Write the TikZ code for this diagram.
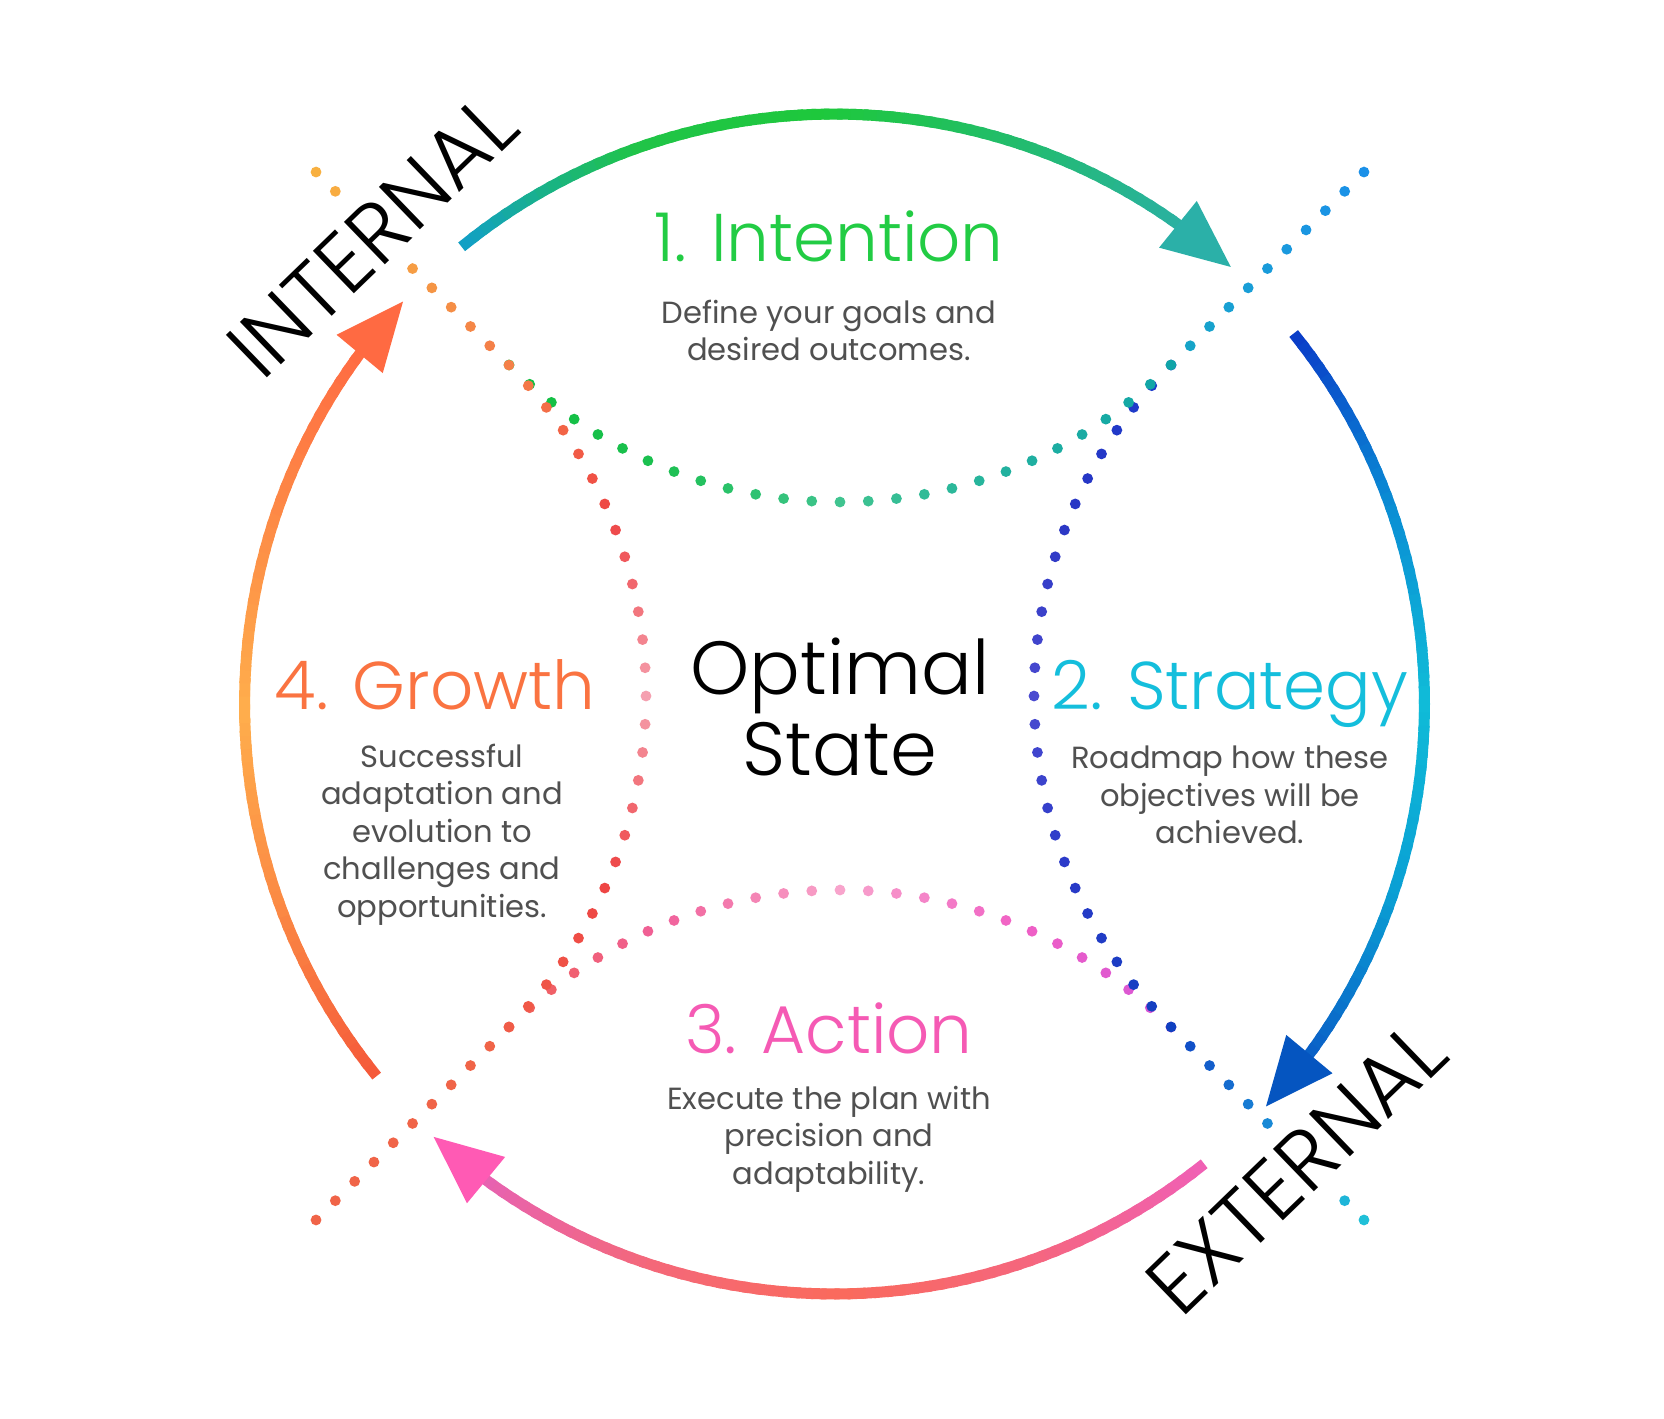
\documentclass[tikz,border=0pt]{standalone}
\usepackage{fontspec}
\setmainfont{Poppins}
\newfontfamily\lightfont{Poppins Light}
\usetikzlibrary{positioning, calc}

% text colours
\definecolor{intentGreen}{HTML}{22CC44}
\definecolor{strategyCyan}{HTML}{14BEDC}
\definecolor{actionPink}{HTML}{F55AB4}
\definecolor{growthOrange}{HTML}{FA7341}
\definecolor{descGray}{HTML}{505050}
% outer ring colours
\definecolor{ringTa}{HTML}{12A0C4}\definecolor{ringTb}{HTML}{20C448}\definecolor{ringTc}{HTML}{1EC83C}
\definecolor{ringTd}{HTML}{22BC6C}\definecolor{ringTe}{HTML}{2AB0A4}\definecolor{arrowT}{HTML}{2BB0A8}
\definecolor{ringRa}{HTML}{0A3EC8}\definecolor{ringRb}{HTML}{0A8ED4}\definecolor{ringRc}{HTML}{10BCD8}
\definecolor{ringRd}{HTML}{0AA0D4}\definecolor{ringRe}{HTML}{0A5CC6}\definecolor{arrowR}{HTML}{0555C0}
\definecolor{ringBa}{HTML}{F060B4}\definecolor{ringBb}{HTML}{F5667E}\definecolor{ringBc}{HTML}{FA6A5C}
\definecolor{ringBd}{HTML}{F4687A}\definecolor{ringBe}{HTML}{E662B4}\definecolor{arrowB}{HTML}{FF5AB4}
\definecolor{ringLa}{HTML}{F55A3A}\definecolor{ringLb}{HTML}{FB8A44}\definecolor{ringLc}{HTML}{FFAE4C}
\definecolor{ringLd}{HTML}{FD8A46}\definecolor{ringLe}{HTML}{FF6A42}\definecolor{arrowL}{HTML}{FF6A42}
% dotted curve colours
\definecolor{dotTa}{HTML}{10C040}\definecolor{dotTb}{HTML}{1CC050}\definecolor{dotTc}{HTML}{40C490}
\definecolor{dotTd}{HTML}{20B0A0}\definecolor{dotTe}{HTML}{10A4A8}
\definecolor{dotNa}{HTML}{16A4C8}\definecolor{dotNb}{HTML}{18A0D4}\definecolor{dotNc}{HTML}{1A9ADC}
\definecolor{dotNd}{HTML}{1A94E4}\definecolor{dotNe}{HTML}{1A90E8}
\definecolor{dotRa}{HTML}{1A3CCC}\definecolor{dotRb}{HTML}{2A36C4}\definecolor{dotRc}{HTML}{4A4AD0}
\definecolor{dotRd}{HTML}{2A3AC8}\definecolor{dotRe}{HTML}{1040C0}
\definecolor{dotSa}{HTML}{1050C8}\definecolor{dotSb}{HTML}{1670D0}\definecolor{dotSc}{HTML}{1A90D8}
\definecolor{dotSd}{HTML}{1CA8D8}\definecolor{dotSe}{HTML}{20C0D8}
\definecolor{dotBa}{HTML}{F06050}\definecolor{dotBb}{HTML}{F0609A}\definecolor{dotBc}{HTML}{F8A4CC}
\definecolor{dotBd}{HTML}{F060C4}\definecolor{dotBe}{HTML}{D454D8}
\definecolor{dotWa}{HTML}{F06448}
\definecolor{dotLa}{HTML}{F58048}\definecolor{dotLb}{HTML}{EE4444}\definecolor{dotLc}{HTML}{F5A0B0}
\definecolor{dotLd}{HTML}{EE4444}\definecolor{dotLe}{HTML}{F05C48}
\definecolor{dotKa}{HTML}{F48048}\definecolor{dotKb}{HTML}{F59046}\definecolor{dotKc}{HTML}{F6A044}
\definecolor{dotKd}{HTML}{F7A842}\definecolor{dotKe}{HTML}{F8B040}

% colour gc at position #1 (0..1) between five stops
\newcommand\gradcol[6]{%
  \pgfmathtruncatemacro\gseg{min(4*#1,3.999)}%
  \pgfmathsetmacro\gpct{100-100*(4*#1-\gseg)}%
  \ifcase\gseg\relax
    \colorlet{gc}{#2!\gpct!#3}\or
    \colorlet{gc}{#3!\gpct!#4}\or
    \colorlet{gc}{#4!\gpct!#5}\or
    \colorlet{gc}{#5!\gpct!#6}\fi}

% outer ring piece, clockwise from angle #1 to #2
\newcommand\ringarc[7]{%
  \foreach \i in {0,...,59}{
    \pgfmathsetmacro\tpos{\i/59}
    \pgfmathsetmacro\angA{#1-(#1-#2)*\i/60}
    \pgfmathsetmacro\angB{#1-(#1-#2)*(\i+1.4)/60}
    \gradcol{\tpos}{#3}{#4}{#5}{#6}{#7}
    \draw[gc, line width=0.11cm] ({834.5+590*cos(\angA)},{704-590*sin(\angA)})
      -- ({834.5+590*cos(\angB)},{704-590*sin(\angB)});
  }}

% arrow head on the ring
\newcommand\arrowhd[3]{%
  \coordinate (#1tip) at ({834.5+590*cos(#2)},{704-590*sin(#2)});
  \coordinate (#1base) at ({834.5+590*cos(#2+6.6)},{704-590*sin(#2+6.6)});
  \fill[#3] (#1tip) -- ($(#1base)!0.3cm!90:(#1tip)$) -- ($(#1base)!0.3cm!-90:(#1tip)$) -- cycle;}

% dotted inner arc, centre (#1,#2), from angle #3 to #4
\newcommand\dotarc[9]{%
  \foreach \i in {0,...,26}{
    \pgfmathsetmacro\tpos{\i/26}
    \pgfmathsetmacro\angA{#3+(#4-#3)*\tpos}
    \gradcol{\tpos}{#5}{#6}{#7}{#8}{#9}
    \fill[gc] ({#1+468*cos(\angA)},{#2+468*sin(\angA)}) circle[radius=5.4];
  }}

% dotted diagonal, from the junction outwards along (#1,#2)
\newcommand\dotdiag[7]{%
  \foreach \j in {1,...,10}{
    \pgfmathsetmacro\tpos{(\j-1)/9}
    \pgfmathsetmacro\dist{(468+27.3*\j)/sqrt(2)}
    \gradcol{\tpos}{#3}{#4}{#5}{#6}{#7}
    \fill[gc] ({840+#1*\dist},{696+#2*\dist}) circle[radius=5.4];
  }}

\begin{document}
\begin{tikzpicture}[
    x=0.01cm, y=-0.01cm,
    steptitle/.style={
        anchor=base,
        inner sep=0,
        font={\lightfont\fontsize{19.2}{23}\selectfont}
    },
    stepdesc/.style={
        align=center,
        inner sep=0,
        text=descGray,
        font={\fontsize{8.7}{10.7}\selectfont}
    },
    centertext/.style={
        align=center,
        inner sep=0,
        font={\lightfont\fontsize{21.4}{23.3}\selectfont}
    },
    sidelabel/.style={
        fill=white,
        inner xsep=0.05cm,
        inner ysep=0.17cm,
        rotate=44,
        font={\lightfont\fontsize{24}{28}\selectfont}
    }
]
\fill[white] (0,0) rectangle (1664,1418);
\useasboundingbox (0,0) rectangle (1664,1418);

% Dotted curves
\dotarc{840}{1358}{225}{315}{dotBa}{dotBb}{dotBc}{dotBd}{dotBe}
\dotarc{1502}{696}{225}{135}{dotRa}{dotRb}{dotRc}{dotRd}{dotRe}
\dotdiag{1}{-1}{dotNa}{dotNb}{dotNc}{dotNd}{dotNe}
\dotdiag{1}{1}{dotSa}{dotSb}{dotSc}{dotSd}{dotSe}
\dotdiag{-1}{1}{dotWa}{dotWa}{dotWa}{dotWa}{dotWa}
\dotdiag{-1}{-1}{dotKa}{dotKb}{dotKc}{dotKd}{dotKe}
\dotarc{840}{34}{135}{45}{dotTa}{dotTb}{dotTc}{dotTd}{dotTe}
\dotarc{178}{696}{-45}{45}{dotLa}{dotLb}{dotLc}{dotLd}{dotLe}

% Side labels
\node[sidelabel] (inner) at (372,236) {INTERNAL};
\node[sidelabel] (outer) at (1296,1168) {EXTERNAL};

% Outer ring with arrows
\ringarc{129.2}{52.8}{ringTa}{ringTb}{ringTc}{ringTd}{ringTe}
\arrowhd{top}{47.8}{arrowT}
\ringarc{38.9}{-38}{ringRa}{ringRb}{ringRc}{ringRd}{ringRe}
\arrowhd{right}{-43}{arrowR}
\ringarc{-51.2}{-127.8}{ringBa}{ringBb}{ringBc}{ringBd}{ringBe}
\arrowhd{bottom}{-132.8}{arrowB}
\ringarc{219.1}{142}{ringLa}{ringLb}{ringLc}{ringLd}{ringLe}
\arrowhd{left}{137}{arrowL}

% Step texts
\node[steptitle, text=intentGreen] (t1) at (829,261) {1. Intention};
\node[stepdesc, below=0.38cm of t1.base] (d1) {Define your goals and\\desired outcomes.};
\node[steptitle, text=strategyCyan] (t2) at (1230,709) {2. Strategy};
\node[stepdesc, below=0.36cm of t2.base] (d2) {Roadmap how these\\objectives will be\\achieved.};
\node[steptitle, text=actionPink] (t3) at (829,1053) {3. Action};
\node[stepdesc, below=0.32cm of t3.base] (d3) {Execute the plan with\\precision and\\adaptability.};
\node[steptitle, text=growthOrange] (t4) at (435,709) {4. Growth};
\node[stepdesc, below=0.34cm of t4.base, xshift=0.07cm] (d4) {Successful\\adaptation and\\evolution to\\challenges and\\opportunities.};

% Centre
\node[centertext] (opt) at (840,707) {Optimal\\State};

\end{tikzpicture}
\end{document}
